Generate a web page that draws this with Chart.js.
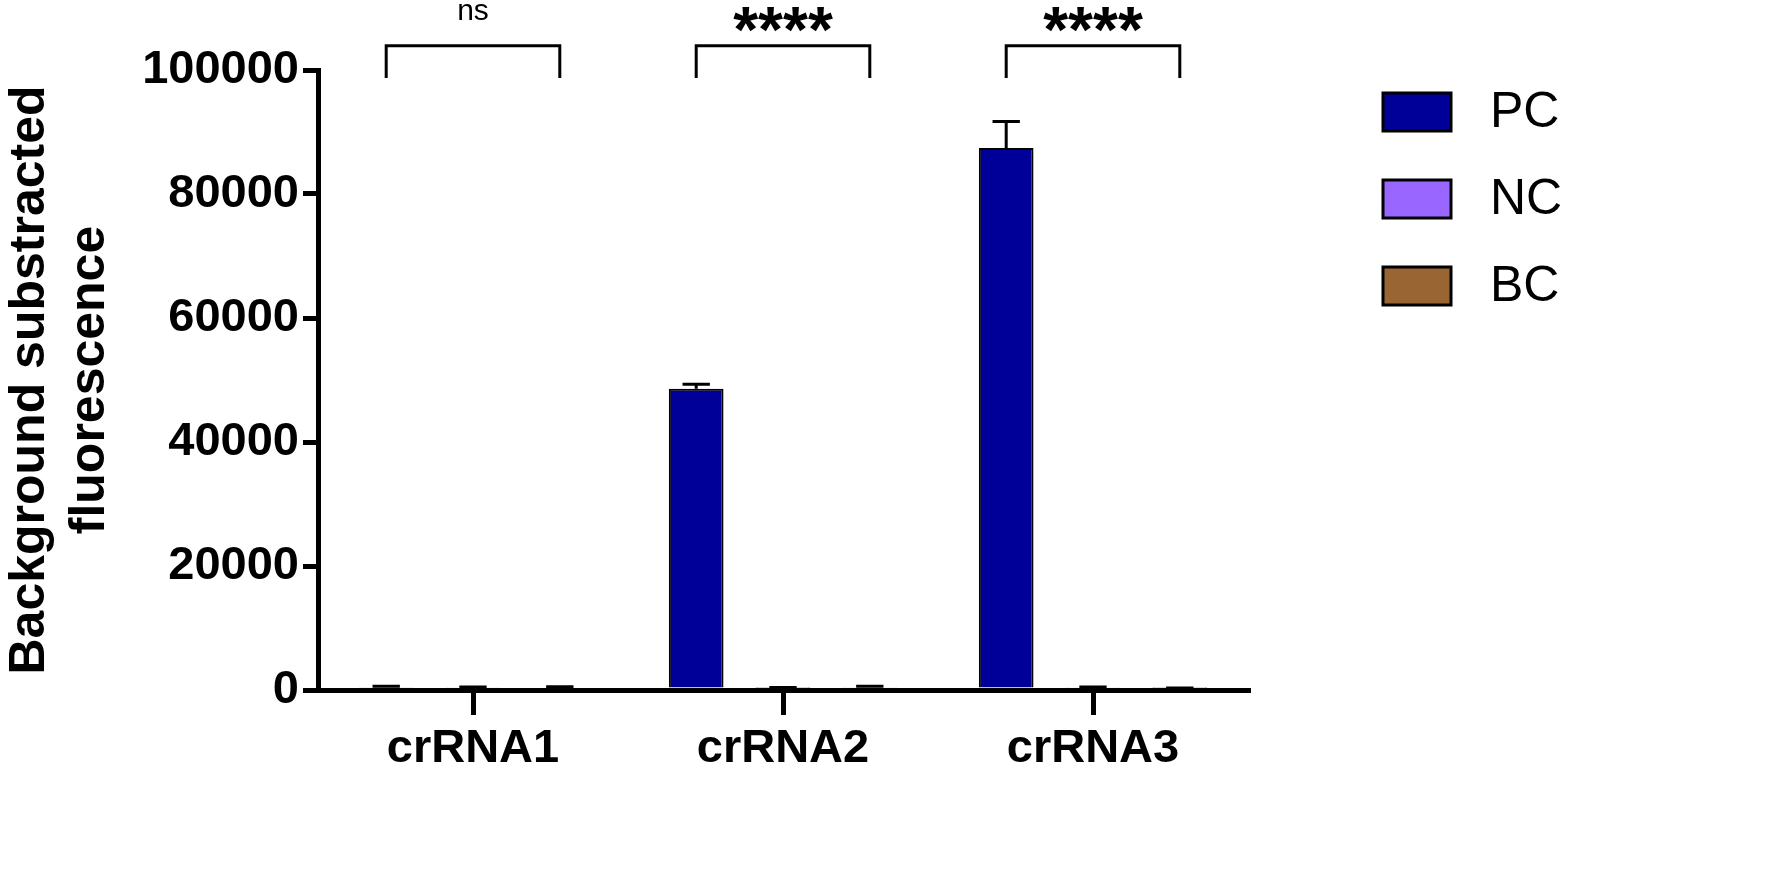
<!DOCTYPE html>
<html>
<head>
<meta charset="utf-8">
<script src="https://cdn.jsdelivr.net/npm/chart.js@4.4.0/dist/chart.umd.min.js"></script>
<style>
	body { margin: 0; background: #fff; }
	#wrap { width: 1791px; height: 875px; }
</style>
</head>
<body>
<div id="wrap"><canvas id="mycanvas" width="1791" height="875"></canvas></div>
<script>
var labels = ['crRNA1', 'crRNA2', 'crRNA3'];
var seriesNames = ['PC', 'NC', 'BC'];
var seriesColors = ['#000099', '#9966ff', '#996633'];
var pcValues = [450, 48600, 87400];
var ncValues = [350, 300, 350];
var bcValues = [400, 450, 250];
var pcErrors = [150, 700, 4300];
var ncErrors = [120, 100, 120];
var bcErrors = [120, 150, 80];
var yTicks = [0, 20000, 40000, 60000, 80000, 100000];
var sigLabels = ['ns', '****', '****'];
var bracketTop = 103900;
var bracketLeg = 98700;

var allValues = [pcValues, ncValues, bcValues];
var allErrors = [pcErrors, ncErrors, bcErrors];
var boldFont = '"Liberation Sans", Arial, sans-serif';

var datasets = [];
for (var i in seriesNames) {
	datasets.push({
		label: seriesNames[i],
		data: allValues[i],
		backgroundColor: seriesColors[i],
		borderColor: '#000',
		borderWidth: 2,
		borderSkipped: 'bottom',
		categoryPercentage: 0.84,
		barPercentage: 0.63
	});
}

// error bars, significance brackets, legend
var extras = {
	id: 'extras',
	afterDatasetsDraw: function(chart) {
		var ctx = chart.ctx;
		var y = chart.scales.y;
		ctx.save();
		ctx.strokeStyle = '#000';
		ctx.lineWidth = 3;
		for (var d = 0; d < 3; d++) {
			var meta = chart.getDatasetMeta(d);
			meta.data.forEach(function(bar, k) {
				var top = y.getPixelForValue(allValues[d][k] + allErrors[d][k]);
				var half = bar.width / 4;
				ctx.beginPath();
				ctx.moveTo(bar.x, bar.y);
				ctx.lineTo(bar.x, top);
				ctx.moveTo(bar.x - half, top);
				ctx.lineTo(bar.x + half, top);
				ctx.stroke();
			});
		}
		ctx.restore();
	},
	afterDraw: function(chart) {
		var ctx = chart.ctx;
		var y = chart.scales.y;
		var pc = chart.getDatasetMeta(0).data;
		var bc = chart.getDatasetMeta(2).data;
		var yt = y.getPixelForValue(bracketTop);
		var yl = y.getPixelForValue(bracketLeg);
		ctx.save();
		ctx.strokeStyle = '#000';
		ctx.fillStyle = '#000';
		ctx.lineWidth = 3;
		ctx.textAlign = 'center';
		for (var k = 0; k < labels.length; k++) {
			var x1 = pc[k].x, x2 = bc[k].x;
			ctx.beginPath();
			ctx.moveTo(x1, yl);
			ctx.lineTo(x1, yt);
			ctx.lineTo(x2, yt);
			ctx.lineTo(x2, yl);
			ctx.stroke();
			var mid = (x1 + x2) / 2;
			if (sigLabels[k] == 'ns') {
				ctx.font = '30px ' + boldFont;
				ctx.textBaseline = 'alphabetic';
				ctx.fillText(sigLabels[k], mid, 20);
			} else {
				ctx.font = 'bold 64px ' + boldFont;
				ctx.textBaseline = 'alphabetic';
				ctx.fillText(sigLabels[k], mid, 52);
			}
		}
		// legend
		ctx.textAlign = 'left';
		ctx.textBaseline = 'middle';
		ctx.font = '50px ' + boldFont;
		for (var i = 0; i < seriesNames.length; i++) {
			var by = 93 + i * 87;
			ctx.fillStyle = seriesColors[i];
			ctx.fillRect(1383, by, 68, 38);
			ctx.lineWidth = 3;
			ctx.strokeStyle = '#000';
			ctx.strokeRect(1383, by, 68, 38);
			ctx.fillStyle = '#000';
			ctx.fillText(seriesNames[i], 1490, by + 20);
		}
		ctx.restore();
	}
};

var ctx = document.getElementById('mycanvas');
var barGraph = new Chart(ctx, {
	type: 'bar',
	data: { labels: labels, datasets: datasets },
	plugins: [extras],
	options: {
		responsive: false,
		animation: false,
		layout: { padding: { left: 0, top: 70, right: 543, bottom: 0 } },
		plugins: { legend: { display: false }, tooltip: { enabled: false } },
		scales: {
			x: {
				afterFit: function(s) { s.height = 185; },
				grid: { offset: false, drawOnChartArea: false, drawTicks: true, tickLength: 25, color: '#000', lineWidth: 5 },
				border: { color: '#000', width: 5 },
				ticks: { color: '#000', padding: 6, font: { family: boldFont, size: 47, weight: 'bold' } }
			},
			y: {
				min: 0,
				max: 100000,
				afterFit: function(s) { s.width = 318; },
				afterBuildTicks: function(s) { s.ticks = yTicks.map(function(v) { return { value: v }; }); },
				grid: { drawOnChartArea: false, drawTicks: true, tickLength: 15, color: '#000', lineWidth: 5 },
				border: { color: '#000', width: 5 },
				ticks: {
					color: '#000',
					padding: 4,
					font: { family: boldFont, size: 47, weight: 'bold' },
					callback: function(v) { return String(v); }
				},
				title: {
					display: true,
					text: ['Background substracted', 'fluorescence'],
					color: '#000',
					padding: { top: 0, bottom: 0 },
					font: { family: boldFont, size: 50, weight: 'bold', lineHeight: 1.2 }
				}
			}
		}
	}
});
</script>
</body>
</html>
